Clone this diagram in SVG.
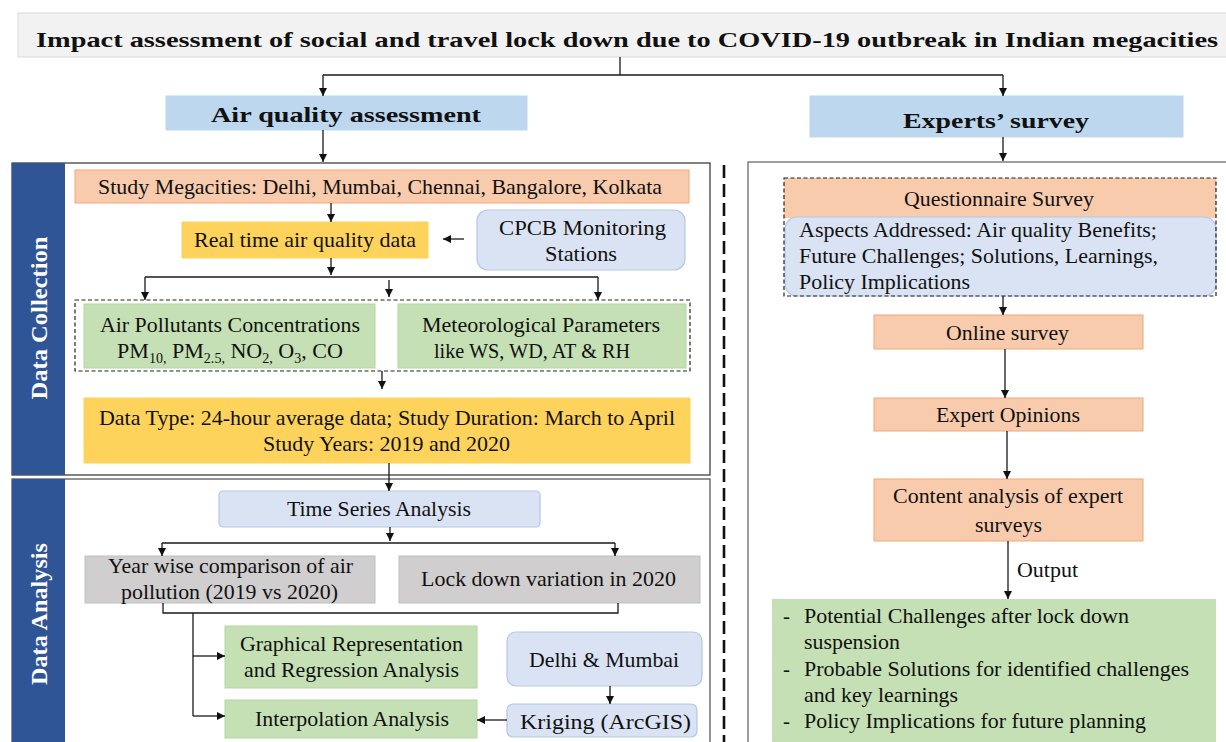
<svg xmlns="http://www.w3.org/2000/svg" width="1226" height="742" viewBox="0 0 1226 742" font-family="Liberation Serif, Times New Roman, serif">
  <defs>
    <marker id="ah" markerUnits="userSpaceOnUse" markerWidth="9" markerHeight="9" refX="8" refY="4" orient="auto">
      <path d="M0,0 L8,4 L0,8 z" fill="#111"/>
    </marker>
    <style>
      .t { font-size: 22px; fill: #111; }
      .r { font-size: 21px; }
      .b { font-weight: bold; }
      .side { font-weight: bold; font-size: 24px; fill: #fff; text-anchor: middle; }
      .ln { stroke: #1a1a1a; stroke-width: 1.3; fill: none; }
      .arr { marker-end: url(#ah); }
      .or { fill: #f8cbad; stroke: #f0a879; stroke-width: 1; }
      .ye { fill: #fdd35c; stroke: #fdd35c; }
      .gr { fill: #c5e0b4; stroke: #b5d69f; stroke-width: 1; }
      .lb { fill: #dae3f3; stroke: #b4c7e7; stroke-width: 1.2; }
      .gy { fill: #d0cece; stroke: #bfbfbf; stroke-width: 1; }
      .hd { fill: #bdd7ee; stroke: #bdd7ee; }
      .frame { fill: none; stroke: #404040; stroke-width: 1.3; }
      .dash { fill: none; stroke: #222; stroke-width: 1.2; stroke-dasharray: 4 2.5; }
    </style>
  </defs>

  <rect width="1226" height="742" fill="#fff"/>

  <!-- Title -->
  <g id="title">
    <rect x="18" y="13" width="1212" height="44" fill="#f2f2f2" stroke="#d9d9d9" stroke-width="1"/>
    <text class="t b" x="36" y="47" font-size="27" textLength="1182" lengthAdjust="spacingAndGlyphs">Impact assessment of social and travel lock down due to COVID-19 outbreak in Indian megacities</text>
  </g>

  <!-- Branch headers -->
  <g id="air-quality-assessment">
    <rect class="hd" x="166" y="96" width="361" height="34"/>
    <text class="t b" x="211" y="122" font-size="24" textLength="270" lengthAdjust="spacingAndGlyphs">Air quality assessment</text>
  </g>
  <g id="experts-survey">
    <rect class="hd" x="810" y="96" width="373" height="41"/>
    <text class="t b" x="903" y="128" font-size="24" textLength="186" lengthAdjust="spacingAndGlyphs">Experts’ survey</text>
  </g>

  <!-- Section frames -->
  <g id="data-collection-frame">
    <rect class="frame" x="12" y="163" width="698" height="312"/>
    <rect x="12" y="163" width="53" height="312" fill="#2f5597"/>
    <text class="side" transform="translate(47,318) rotate(-90)" textLength="163" lengthAdjust="spacingAndGlyphs">Data Collection</text>
  </g>
  <g id="data-analysis-frame">
    <rect x="12" y="479" width="698" height="270" fill="none" stroke="#595959" stroke-width="1.3"/>
    <rect x="12" y="479" width="53" height="270" fill="#2f5597"/>
    <text class="side" transform="translate(47,614) rotate(-90)" textLength="142" lengthAdjust="spacingAndGlyphs">Data Analysis</text>
  </g>
  <g id="divider">
    <line x1="724" y1="165" x2="724" y2="742" stroke="#111" stroke-width="2.6" stroke-dasharray="13 6"/>
  </g>
  <g id="experts-frame">
    <rect x="748" y="162" width="490" height="590" fill="none" stroke="#7f7f7f" stroke-width="1.5"/>
  </g>

  <!-- Data collection nodes -->
  <g id="study-megacities">
    <rect class="or" x="75" y="170" width="614" height="33"/>
    <text class="t" x="98" y="194" textLength="564" lengthAdjust="spacingAndGlyphs">Study Megacities: Delhi, Mumbai, Chennai, Bangalore, Kolkata</text>
  </g>
  <g id="real-time-data">
    <rect class="ye" x="182" y="222" width="246" height="36"/>
    <text class="t" x="194" y="247" textLength="222" lengthAdjust="spacingAndGlyphs">Real time air quality data</text>
  </g>
  <g id="cpcb-stations">
    <rect class="lb" x="477" y="210" width="208" height="60" rx="11"/>
    <text class="t" x="499" y="235" textLength="167" lengthAdjust="spacingAndGlyphs">CPCB Monitoring</text>
    <text class="t" x="545" y="261" textLength="72" lengthAdjust="spacingAndGlyphs">Stations</text>
  </g>
  <g id="parameters-group">
    <rect class="dash" x="75" y="300" width="615" height="71"/>
  </g>
  <g id="air-pollutants">
    <rect class="gr" x="84" y="304" width="291" height="64"/>
    <text class="t" x="100" y="332" textLength="260" lengthAdjust="spacingAndGlyphs">Air Pollutants Concentrations</text>
    <text class="t" x="117" y="358" textLength="226" lengthAdjust="spacingAndGlyphs">PM<tspan font-size="14" dy="5">10,</tspan><tspan dy="-5"> PM</tspan><tspan font-size="14" dy="5">2.5,</tspan><tspan dy="-5"> NO</tspan><tspan font-size="14" dy="5">2,</tspan><tspan dy="-5"> O</tspan><tspan font-size="14" dy="5">3</tspan><tspan dy="-5">, CO</tspan></text>
  </g>
  <g id="meteorological">
    <rect class="gr" x="398" y="304" width="288" height="64"/>
    <text class="t" x="422" y="332" textLength="238" lengthAdjust="spacingAndGlyphs">Meteorological Parameters</text>
    <text class="t" x="434" y="358" textLength="196" lengthAdjust="spacingAndGlyphs">like WS, WD, AT &amp; RH</text>
  </g>
  <g id="data-type">
    <rect class="ye" x="84" y="398" width="606" height="65"/>
    <text class="t" x="99" y="425" textLength="576" lengthAdjust="spacingAndGlyphs">Data Type: 24-hour average data; Study Duration: March to April</text>
    <text class="t" x="263" y="451" textLength="247" lengthAdjust="spacingAndGlyphs">Study Years: 2019 and 2020</text>
  </g>

  <!-- Data analysis nodes -->
  <g id="time-series">
    <rect class="lb" x="219" y="491" width="321" height="36" rx="4"/>
    <text class="t" x="287" y="516" textLength="184" lengthAdjust="spacingAndGlyphs">Time Series Analysis</text>
  </g>
  <g id="year-wise">
    <rect class="gy" x="85" y="556" width="290" height="47"/>
    <text class="t" x="108" y="573" textLength="245" lengthAdjust="spacingAndGlyphs">Year wise comparison of air</text>
    <text class="t" x="121" y="599" textLength="217" lengthAdjust="spacingAndGlyphs">pollution (2019 vs 2020)</text>
  </g>
  <g id="lockdown-variation">
    <rect class="gy" x="399" y="556" width="301" height="47"/>
    <text class="t" x="421" y="586" textLength="255" lengthAdjust="spacingAndGlyphs">Lock down variation in 2020</text>
  </g>
  <g id="graphical-regression">
    <rect class="gr" x="225" y="626" width="252" height="62"/>
    <text class="t" x="240" y="651" textLength="223" lengthAdjust="spacingAndGlyphs">Graphical Representation</text>
    <text class="t" x="244" y="677" textLength="215" lengthAdjust="spacingAndGlyphs">and Regression Analysis</text>
  </g>
  <g id="interpolation">
    <rect class="gr" x="225" y="700" width="252" height="38"/>
    <text class="t" x="255" y="726" textLength="194" lengthAdjust="spacingAndGlyphs">Interpolation Analysis</text>
  </g>
  <g id="delhi-mumbai">
    <rect class="lb" x="507" y="632" width="195" height="54" rx="9"/>
    <text class="t" x="529" y="667" textLength="150" lengthAdjust="spacingAndGlyphs">Delhi &amp; Mumbai</text>
  </g>
  <g id="kriging">
    <rect class="lb" x="507" y="704" width="190" height="33" rx="6"/>
    <text class="t" x="520" y="729" textLength="171" lengthAdjust="spacingAndGlyphs">Kriging (ArcGIS)</text>
  </g>

  <!-- Experts' survey nodes -->
  <g id="questionnaire">
    <rect x="784" y="178" width="432" height="40" fill="#f8cbad"/>
    <text class="t r" x="904" y="206" textLength="190" lengthAdjust="spacingAndGlyphs">Questionnaire Survey</text>
  </g>
  <g id="aspects">
    <rect class="lb" x="785" y="217" width="431" height="79" rx="12"/>
    <text class="t r" x="799" y="237" textLength="358" lengthAdjust="spacingAndGlyphs">Aspects Addressed: Air quality Benefits;</text>
    <text class="t r" x="799" y="263" textLength="359" lengthAdjust="spacingAndGlyphs">Future Challenges; Solutions, Learnings,</text>
    <text class="t r" x="799" y="289" textLength="171" lengthAdjust="spacingAndGlyphs">Policy Implications</text>
  </g>
  <g id="questionnaire-group">
    <rect class="dash" x="784" y="178" width="432" height="118"/>
  </g>
  <g id="online-survey">
    <rect class="or" x="874" y="315" width="269" height="34"/>
    <text class="t r" x="946" y="340" textLength="123" lengthAdjust="spacingAndGlyphs">Online survey</text>
  </g>
  <g id="expert-opinions">
    <rect class="or" x="874" y="398" width="269" height="33"/>
    <text class="t r" x="936" y="422" textLength="144" lengthAdjust="spacingAndGlyphs">Expert Opinions</text>
  </g>
  <g id="content-analysis">
    <rect class="or" x="874" y="479" width="269" height="62"/>
    <text class="t r" x="893" y="503" textLength="230" lengthAdjust="spacingAndGlyphs">Content analysis of expert</text>
    <text class="t r" x="975" y="532" textLength="67" lengthAdjust="spacingAndGlyphs">surveys</text>
  </g>
  <g id="outputs">
    <rect x="772" y="599" width="444" height="150" fill="#c5e0b4"/>
    <text class="t r" x="783" y="623">-</text>
    <text class="t r" x="804" y="623" textLength="325" lengthAdjust="spacingAndGlyphs">Potential Challenges after lock down</text>
    <text class="t r" x="804" y="649" textLength="96" lengthAdjust="spacingAndGlyphs">suspension</text>
    <text class="t r" x="783" y="676">-</text>
    <text class="t r" x="804" y="676" textLength="385" lengthAdjust="spacingAndGlyphs">Probable Solutions for identified challenges</text>
    <text class="t r" x="804" y="702" textLength="154" lengthAdjust="spacingAndGlyphs">and key learnings</text>
    <text class="t r" x="783" y="728">-</text>
    <text class="t r" x="804" y="728" textLength="342" lengthAdjust="spacingAndGlyphs">Policy Implications for future planning</text>
  </g>

  <!-- Connectors -->
  <g id="connectors">
    <path class="ln" d="M620,57 V75 M323,75 H1003"/>
    <line class="ln arr" x1="323" y1="75" x2="323" y2="96"/>
    <line class="ln arr" x1="1003" y1="75" x2="1003" y2="96"/>
    <line class="ln arr" x1="323" y1="130" x2="323" y2="162"/>
    <line class="ln arr" x1="1003" y1="137" x2="1003" y2="161"/>

    <line class="ln arr" x1="331" y1="203" x2="331" y2="222"/>
    <line class="ln arr" x1="464" y1="239" x2="443" y2="239"/>
    <line class="ln arr" x1="331" y1="258" x2="331" y2="275"/>
    <path class="ln" d="M145,277 H598"/>
    <line class="ln arr" x1="145" y1="277" x2="145" y2="300"/>
    <line class="ln arr" x1="598" y1="277" x2="598" y2="300"/>
    <line class="ln arr" x1="389" y1="280" x2="389" y2="297"/>
    <line class="ln arr" x1="382" y1="371" x2="382" y2="389"/>
    <line class="ln arr" x1="389" y1="463" x2="389" y2="491"/>

    <line class="ln arr" x1="390" y1="527" x2="390" y2="541"/>
    <path class="ln" d="M162,543 H615"/>
    <line class="ln arr" x1="162" y1="543" x2="162" y2="556"/>
    <line class="ln arr" x1="615" y1="543" x2="615" y2="556"/>
    <path class="ln" d="M163,603 V613 H618 V603"/>
    <path class="ln" d="M193,613 V716"/>
    <line class="ln arr" x1="193" y1="656" x2="225" y2="656"/>
    <line class="ln arr" x1="193" y1="716" x2="225" y2="716"/>
    <line class="ln arr" x1="610" y1="686" x2="610" y2="704"/>
    <line class="ln arr" x1="507" y1="720" x2="477" y2="720"/>

    <line class="ln arr" x1="1003" y1="296" x2="1003" y2="315"/>
    <line class="ln arr" x1="1005" y1="349" x2="1005" y2="398"/>
    <line class="ln arr" x1="1007" y1="431" x2="1007" y2="479"/>
    <line class="ln arr" x1="1008" y1="541" x2="1008" y2="599"/>
    <text class="t r" x="1017" y="577" textLength="61" lengthAdjust="spacingAndGlyphs">Output</text>
  </g>
</svg>
